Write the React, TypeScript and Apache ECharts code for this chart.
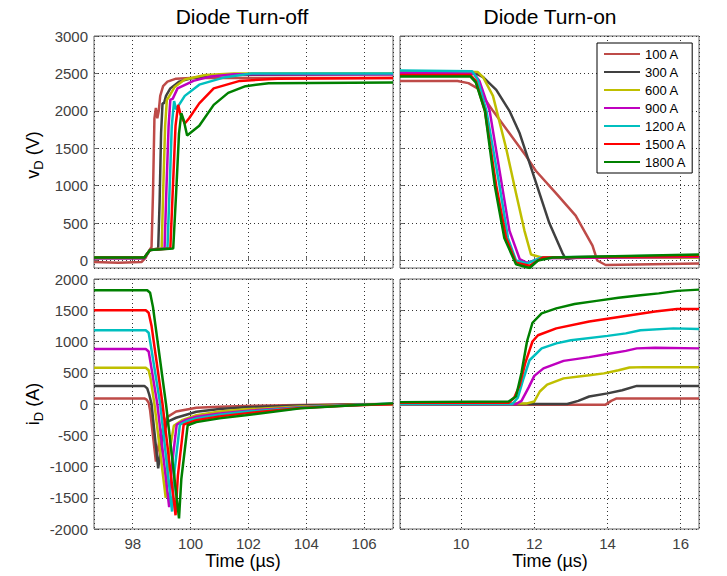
import React, { useEffect, useRef } from 'react';
import * as echarts from 'echarts';

const FONT = '"Liberation Sans", Arial, Helvetica, sans-serif';

const currents = ['100 A', '300 A', '600 A', '900 A', '1200 A', '1500 A', '1800 A'];
const colors = ['#BE4B48', '#404040', '#BFBF00', '#BF00BF', '#00BFBF', '#FF0000', '#008000'];

const titles = ['Diode Turn-off', 'Diode Turn-on'];
const xName = 'Time (µs)';

// ---- Diode turn-off voltage vD (time µs, volts)
const vOff100 = [[96.66, -20], [97.5, -30], [98.3, -20], [98.45, 40], [98.55, 120], [98.65, 180], [98.7, 900], [98.75, 1900], [98.8, 2040], [98.85, 1900], [98.9, 2000], [98.95, 2200], [99.05, 2330], [99.2, 2390], [99.5, 2430], [100, 2440], [103, 2440], [107, 2440]];
const vOff300 = [[96.66, 30], [98.4, 30], [98.5, 90], [98.6, 140], [98.88, 160], [98.93, 800], [98.98, 1700], [99.03, 2100], [99.08, 2100], [99.15, 2200], [99.3, 2300], [99.6, 2390], [100.1, 2440], [101, 2480], [107, 2490]];
const vOff600 = [[96.66, 40], [98.4, 40], [98.5, 90], [98.6, 140], [99.0, 160], [99.05, 900], [99.12, 1800], [99.18, 2150], [99.24, 2180], [99.45, 2320], [99.8, 2420], [100.5, 2480], [101.5, 2500], [107, 2500]];
const vOff900 = [[96.66, 30], [98.4, 30], [98.5, 90], [98.6, 140], [99.1, 160], [99.16, 900], [99.24, 1800], [99.3, 2150], [99.38, 2160], [99.55, 2300], [100.1, 2400], [100.7, 2460], [101.5, 2490], [107, 2490]];
const vOff1200 = [[96.66, 40], [98.4, 40], [98.5, 90], [98.6, 140], [99.2, 160], [99.27, 900], [99.35, 1800], [99.43, 2130], [99.5, 2020], [99.6, 2080], [99.8, 2200], [100.3, 2350], [101.2, 2450], [102.1, 2500], [107, 2500]];
const vOff1500 = [[96.66, 40], [98.4, 40], [98.5, 90], [98.6, 140], [99.3, 160], [99.38, 900], [99.48, 1800], [99.57, 2080], [99.65, 1950], [99.8, 1830], [99.95, 1900], [100.3, 2100], [100.8, 2300], [101.7, 2400], [103, 2430], [107, 2440]];
const vOff1800 = [[96.66, 40], [98.4, 40], [98.5, 90], [98.6, 140], [99.4, 160], [99.5, 900], [99.6, 1700], [99.68, 1970], [99.76, 1880], [99.88, 1670], [100.3, 1800], [100.8, 2080], [101.3, 2240], [101.9, 2330], [102.7, 2370], [107, 2380]];

// ---- Diode turn-on voltage vD (time µs, volts)
const vOn100 = [[8.33, 2400], [9.9, 2400], [10.2, 2370], [10.45, 2300], [10.87, 2000], [11.32, 1700], [11.77, 1400], [12.04, 1200], [12.59, 900], [13.13, 600], [13.59, 200], [13.72, 0], [13.95, -60], [16.5, -40]];
const vOn300 = [[8.33, 2500], [10.4, 2500], [10.6, 2450], [10.96, 2280], [11.32, 2000], [11.6, 1700], [11.87, 1300], [12.14, 900], [12.41, 500], [12.77, 100], [12.86, 20], [13.2, 40], [16.5, 40]];
const vOn600 = [[8.33, 2530], [10.45, 2520], [10.6, 2450], [10.87, 2200], [11.23, 1500], [11.5, 900], [11.73, 400], [11.91, 80], [12.2, 40], [16.5, 40]];
const vOn900 = [[8.33, 2510], [10.35, 2500], [10.5, 2400], [10.78, 2000], [11.05, 1200], [11.32, 400], [11.6, 20], [11.8, -30], [12.2, 30], [16.5, 50]];
const vOn1200 = [[8.33, 2540], [10.3, 2530], [10.45, 2420], [10.69, 2000], [11.05, 1000], [11.28, 300], [11.5, 0], [11.8, -40], [12.2, 40], [16.5, 70]];
const vOn1500 = [[8.33, 2480], [10.25, 2480], [10.4, 2400], [10.65, 2000], [10.96, 1000], [11.23, 300], [11.5, -30], [11.87, -70], [12.23, 40], [16.5, 60]];
const vOn1800 = [[8.33, 2460], [10.25, 2460], [10.4, 2380], [10.65, 2000], [10.92, 1000], [11.18, 300], [11.5, -50], [11.87, -100], [12.1, 0], [12.5, 40], [16.5, 80]];

// ---- Diode turn-off current iD (time µs, amps)
const iOff100 = [[96.66, 90], [98.4, 90], [98.48, 70], [98.55, 20], [98.6, -100], [98.8, -920], [98.95, -500], [99.19, -210], [99.5, -120], [100.2, -60], [101, -45], [101.9, -32], [103.8, -15], [105.5, -5], [107, 0]];
const iOff300 = [[96.66, 290], [98.4, 290], [98.5, 250], [98.57, 150], [98.65, 0], [98.88, -1030], [99.0, -600], [99.19, -285], [99.5, -220], [100.2, -125], [101, -80], [101.9, -53], [103.8, -25], [105.5, -10], [107, 0]];
const iOff600 = [[96.66, 580], [98.45, 580], [98.55, 540], [98.62, 400], [98.75, 0], [99.14, -1500], [99.24, -850], [99.42, -350], [99.7, -260], [100.2, -180], [101, -120], [101.9, -85], [103.8, -40], [105.5, -15], [107, -10]];
const iOff900 = [[96.66, 880], [98.45, 880], [98.55, 840], [98.62, 650], [98.85, 0], [99.26, -1650], [99.35, -1000], [99.52, -330], [99.8, -260], [100.2, -205], [101, -150], [101.9, -110], [103.8, -50], [105.5, -20], [107, 0]];
const iOff1200 = [[96.66, 1180], [98.45, 1180], [98.55, 1140], [98.62, 950], [98.95, 0], [99.36, -1720], [99.45, -1050], [99.63, -330], [99.9, -270], [100.2, -230], [101, -170], [101.9, -125], [103.8, -55], [105.5, -20], [107, 10]];
const iOff1500 = [[96.66, 1500], [98.45, 1500], [98.55, 1460], [98.65, 1250], [99.03, 0], [99.48, -1780], [99.56, -1150], [99.76, -330], [100.0, -290], [100.2, -260], [101, -200], [101.9, -150], [103.8, -65], [105.5, -25], [107, 0]];
const iOff1800 = [[96.66, 1820], [98.5, 1820], [98.6, 1780], [98.7, 1550], [99.15, 0], [99.6, -1830], [99.68, -1200], [99.9, -340], [100.2, -290], [101, -230], [101.9, -180], [103.8, -70], [105.5, -25], [107, 10]];

// ---- Diode turn-on current iD (time µs, amps)
const iOn100 = [[8.33, -10], [13.95, -10], [14.1, 50], [14.25, 90], [16.5, 90]];
const iOn300 = [[8.33, 0], [12.9, 0], [13.2, 50], [13.5, 120], [14.0, 170], [14.4, 220], [14.8, 290], [16.5, 290]];
const iOn600 = [[8.33, 0], [11.8, 10], [12.0, 40], [12.15, 200], [12.35, 310], [12.8, 410], [13.5, 460], [13.9, 490], [14.3, 540], [14.6, 585], [15.0, 590], [16.5, 590]];
const iOn900 = [[8.33, 0], [11.5, 0], [11.65, 50], [11.85, 270], [12.0, 450], [12.25, 570], [12.8, 690], [13.5, 750], [14.0, 800], [14.5, 850], [14.8, 890], [15.3, 900], [16.5, 890]];
const iOn1200 = [[8.33, 0], [11.4, 0], [11.55, 100], [11.7, 400], [11.87, 700], [12.2, 890], [12.6, 970], [13.0, 1020], [14.0, 1090], [14.5, 1130], [14.9, 1180], [15.8, 1210], [16.5, 1200]];
const iOn1500 = [[8.33, 20], [11.3, 20], [11.45, 100], [11.6, 300], [11.75, 650], [11.95, 1000], [12.1, 1100], [12.6, 1210], [13.5, 1320], [14.4, 1400], [15.3, 1480], [15.9, 1520], [16.5, 1520]];
const iOn1800 = [[8.33, 30], [11.3, 40], [11.5, 120], [11.65, 500], [11.8, 1000], [11.95, 1300], [12.2, 1450], [12.6, 1530], [13.1, 1600], [13.7, 1650], [14.3, 1700], [14.9, 1740], [15.4, 1770], [15.9, 1810], [16.5, 1830]];

const panels = [
  [vOff100, vOff300, vOff600, vOff900, vOff1200, vOff1500, vOff1800],
  [vOn100, vOn300, vOn600, vOn900, vOn1200, vOn1500, vOn1800],
  [iOff100, iOff300, iOff600, iOff900, iOff1200, iOff1500, iOff1800],
  [iOn100, iOn300, iOn600, iOn900, iOn1200, iOn1500, iOn1800],
];

const FRAME = '#666';
const plain = (v: number) => String(v);

function xAxis(gridIndex: number, min: number, max: number, split: number, labels: boolean) {
  return {
    type: 'value', gridIndex, min, max, splitNumber: split,
    axisLine: { show: false },
    axisTick: { show: true, inside: true, length: 4, lineStyle: { color: FRAME } },
    splitLine: { show: true, lineStyle: { color: '#333', type: [1, 3], width: 1 } },
    axisLabel: { show: labels, showMinLabel: false, showMaxLabel: false, formatter: plain, color: '#404040', fontSize: 15, fontFamily: FONT, margin: 7 },
  };
}
function yAxis(gridIndex: number, min: number, max: number, labels: boolean, interval?: number, split?: number) {
  const a: any = {
    type: 'value', gridIndex, min, max,
    axisLine: { show: false },
    axisTick: { show: true, inside: true, length: 4, lineStyle: { color: FRAME } },
    splitLine: { show: true, lineStyle: { color: '#333', type: [1, 3], width: 1 } },
    axisLabel: { show: labels, showMinLabel: interval ? true : false, formatter: plain, color: '#404040', fontSize: 15, fontFamily: FONT, margin: 6 },
  };
  if (interval) a.interval = interval;
  if (split) a.splitNumber = split;
  return a;
}

export default function App() {
  const ref = useRef<HTMLDivElement>(null);
  useEffect(() => {
    const chart = echarts.init(ref.current!, null, { renderer: 'svg' });
    const series: any[] = [];
    panels.forEach((panel, p) => {
      panel.forEach((data, k) => {
        series.push({
          type: 'line', name: currents[k], xAxisIndex: p, yAxisIndex: p,
          data, symbol: 'none', showSymbol: false, silent: true,
          lineStyle: { color: colors[k], width: 2.5 }, itemStyle: { color: colors[k] },
        });
      });
    });
    const gridBase = { show: true, borderColor: FRAME, borderWidth: 1, backgroundColor: '#fff' };
    const yName = (main: string, unit: string, x: number, y: number) => ({
      type: 'text', x, y, rotation: Math.PI / 2,
      style: {
        text: `{a|${main}}{b|D}{a| (${unit})}`,
        align: 'center', verticalAlign: 'middle', fill: '#000',
        rich: {
          a: { fontSize: 18, fontFamily: FONT, fill: '#000' },
          b: { fontSize: 13, fontFamily: FONT, fill: '#000', padding: [10, 0, 0, 0] },
        },
      },
    });
    const txt = (text: string, x: number, y: number, size: number) => ({
      type: 'text', x, y,
      style: { text, font: `${size}px ${FONT}`, fill: '#000', align: 'center', verticalAlign: 'middle' },
    });
    chart.setOption({
      animation: false,
      backgroundColor: '#fff',
      grid: [
        { ...gridBase, left: 94, top: 36, width: 299, height: 232 },
        { ...gridBase, left: 400, top: 36, width: 299, height: 232 },
        { ...gridBase, left: 94, top: 279, width: 299, height: 250 },
        { ...gridBase, left: 400, top: 279, width: 299, height: 250 },
      ],
      xAxis: [
        xAxis(0, 96.66, 107, 5, false),
        xAxis(1, 8.33, 16.5, 4, false),
        xAxis(2, 96.66, 107, 5, true),
        xAxis(3, 8.33, 16.5, 4, true),
      ],
      yAxis: [
        yAxis(0, -100, 3000, true, undefined, 6),
        yAxis(1, -100, 3000, false, undefined, 6),
        yAxis(2, -2000, 2000, true, 500),
        yAxis(3, -2000, 2000, false, 500),
      ],
      legend: {
        orient: 'vertical', left: 597, top: 43,
        icon: 'rect', itemWidth: 36, itemHeight: 2, itemGap: 4,
        padding: [4, 6, 4, 7],
        borderColor: '#000', borderWidth: 1, backgroundColor: '#fff',
        textStyle: { fontSize: 13, lineHeight: 14, color: '#000', fontFamily: FONT },
        data: currents,
      },
      graphic: [
        txt(titles[0], 242, 16, 21),
        txt(titles[1], 550, 16, 21),
        txt(xName, 243, 561, 18),
        txt(xName, 550, 561, 18),
        yName('v', 'V', 33, 155),
        yName('i', 'A', 33, 404),
      ],
      series,
    });
    return () => chart.dispose();
  }, []);
  return <div ref={ref} style={{ position: 'absolute', left: 0, top: 0, width: 727, height: 576 }} />;
}
